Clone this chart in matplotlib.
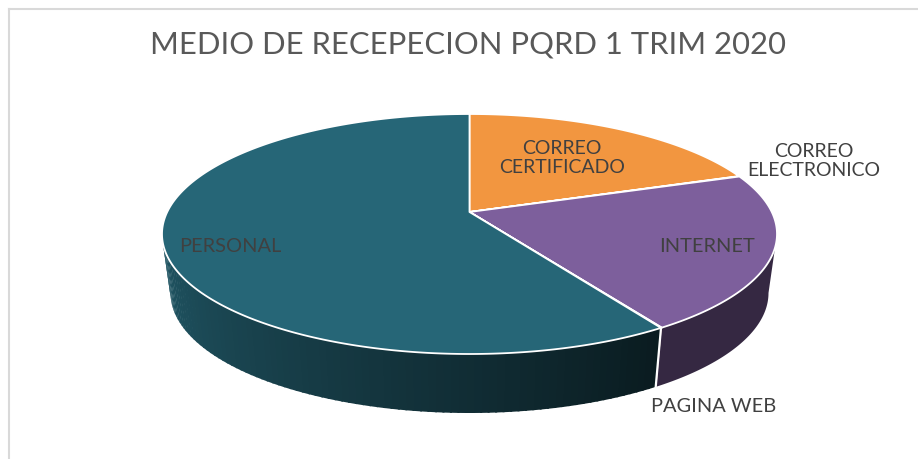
import numpy as np
import matplotlib
matplotlib.use('Agg')
import matplotlib.pyplot as plt
from matplotlib.colors import to_rgb

plt.rcParams['font.family'] = ['Lato', 'DejaVu Sans']

title = 'MEDIO DE RECEPECION PQRD 1 TRIM 2020'
labels = ['CORREO\nCERTIFICADO', 'CORREO\nELECTRONICO', 'INTERNET', 'PAGINA WEB', 'PERSONAL']
# share of the pie in percent
values = [17.0, 0.05, 22.2, 0.05, 60.7]
colors = ['#f29640', '#4a8fb5', '#7d5f9c', '#b03a3a', '#266677']

cx, cy, rx, ry = 469.5, 234, 307.5, 120
apex_y = 212
depth = 59
rx_bottom = 299

fig = plt.figure(figsize=(9.18, 4.59), dpi=100)
ax = fig.add_axes([0, 0, 1, 1])
ax.set_xlim(0, 918)
ax.set_ylim(459, 0)
ax.axis('off')

# chart frame
ax.plot([9, 9], [459, 9], color='#d9d9d9', lw=1.5)
ax.plot([9, 918], [9, 9], color='#d9d9d9', lw=1.5)


def rim(a0, a1, r=rx, dy=0):
    t = np.radians(np.linspace(a0, a1, max(int(abs(a1 - a0) * 3), 2)))
    return cx + r * np.sin(t), cy + dy - ry * np.cos(t)


def shade(col, f):
    return tuple(c * f for c in to_rgb(col))


def wall(a0, a1, col):
    x, y = rim(a0, a1)
    xb, yb = rim(a0, a1, rx_bottom, depth)
    ax.fill(np.r_[x, xb[::-1]], np.r_[y, yb[::-1]], color=col, lw=0, zorder=2)


edges = np.cumsum([0] + values) / sum(values) * 360

# side walls, split in thin strips for the gradient on the big slice
for i, (a0, a1) in enumerate(zip(edges[:-1], edges[1:])):
    lo, hi = max(a0, 90), min(a1, 270)
    if hi <= lo:
        continue
    if labels[i] == 'PERSONAL':
        steps = np.linspace(lo, hi, 90)
        for s0, s1 in zip(steps[:-1], steps[1:]):
            f = 0.27 + 0.58 * (s0 - lo) / (hi - lo)
            wall(s0, s1 + 0.4, shade(colors[i], f))
    else:
        wall(lo, hi, shade(colors[i], 0.42))

# separator on the wall at the front slice boundary
x, y = rim(edges[4], edges[4])
xb, yb = rim(edges[4], edges[4], rx_bottom, depth)
ax.plot([x[0], xb[0]], [y[0], yb[0]], color='white', lw=1.6, zorder=3)

# top faces
for i, (a0, a1) in enumerate(zip(edges[:-1], edges[1:])):
    x, y = rim(a0, a1)
    ax.fill(np.r_[cx, x], np.r_[apex_y, y], facecolor=colors[i],
            edgecolor='white', lw=1.3, joinstyle='round', zorder=4)

ax.text(468, 44, title, ha='center', va='center', fontsize=22.3, color='#595959')

label_xy = [(562, 158), (814, 161), (707, 247), (714, 407), (230, 247)]
label_size = [14, 14, 14.4, 14.4, 14.4]
for lab, (lx, ly), fs in zip(labels, label_xy, label_size):
    ax.text(lx, ly, lab, ha='center', va='center', fontsize=fs,
            color='#404040', linespacing=1.2, zorder=5)

fig.savefig('out.png', dpi=100)
